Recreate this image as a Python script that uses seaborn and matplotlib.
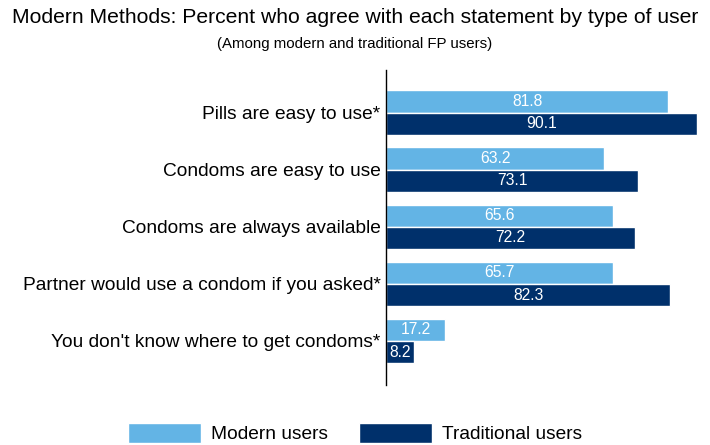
import numpy as np
import pandas as pd
import matplotlib
matplotlib.use("Agg")
import matplotlib.pyplot as plt
import seaborn as sns

# Data
statements = [
    "Pills are easy to use*",
    "Condoms are easy to use",
    "Condoms are always available",
    "Partner would use a condom if you asked*",
    "You don't know where to get condoms*",
]
modern_users = [81.8, 63.2, 65.6, 65.7, 17.2]
traditional_users = [90.1, 73.1, 72.2, 82.3, 8.2]
groups = ["Modern users", "Traditional users"]
colors = ["#63B4E5", "#00306B"]

df = pd.DataFrame({
    "statement": statements * 2,
    "group": [groups[0]] * len(statements) + [groups[1]] * len(statements),
    "value": modern_users + traditional_users,
})

sns.set_theme(style="white")
plt.rcParams["font.family"] = ["Liberation Sans", "DejaVu Sans"]
plt.rcParams["text.color"] = "black"
plt.rcParams["ytick.color"] = "black"

fig = plt.figure(figsize=(7.1, 4.45), dpi=100)
ax = fig.add_axes([0.5437, 0.135, 0.4523, 0.708])

sns.barplot(data=df, y="statement", x="value", hue="group", orient="h",
            palette=colors, saturation=1, width=0.78, edgecolor="white",
            linewidth=1, ax=ax, legend=False)

# value labels inside bars
for cont in ax.containers:
    ax.bar_label(cont, fmt="%.1f", label_type="center", color="white", fontsize=11.3)

ax.set_xlim(0, 93)
ax.set_ylim(4.77, -0.75)
ax.set_xlabel("")
ax.set_ylabel("")
ax.set_xticks([])
ax.tick_params(axis="y", length=0, labelsize=13.8, pad=4, labelcolor="black")
for side in ["top", "right", "bottom"]:
    ax.spines[side].set_visible(False)
ax.spines["left"].set_color("black")
ax.spines["left"].set_linewidth(1)

fig.text(0.5, 0.96, "Modern Methods: Percent who agree with each statement by type of user",
         ha="center", va="center", fontsize=15.2, color="black")
fig.text(0.5, 0.901, "(Among modern and traditional FP users)",
         ha="center", va="center", fontsize=10.8, color="black")

handles = [plt.Rectangle((0, 0), 1, 1, facecolor=c, edgecolor="white") for c in colors]
fig.legend(handles, groups, loc="center", bbox_to_anchor=(0.5, 0.027), ncol=2,
           frameon=False, fontsize=13.8, handlelength=3.8, handleheight=1.3,
           columnspacing=1.6, handletextpad=0.55)

fig.savefig("out.png", dpi=100)
